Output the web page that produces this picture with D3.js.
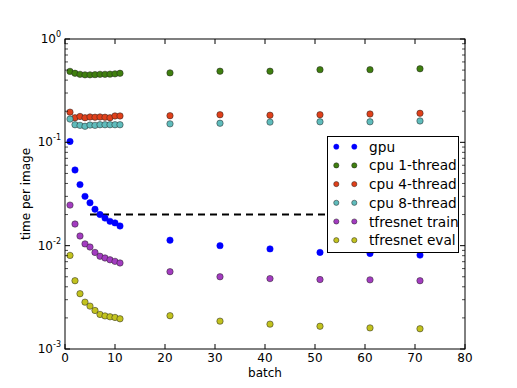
<!DOCTYPE html>
<html>
<head>
<meta charset="utf-8">
<script src="https://cdn.jsdelivr.net/npm/d3@7"></script>
<style>
body { margin: 0; background: #fff; }
svg { font-family: "DejaVu Sans", sans-serif; }
</style>
</head>
<body>
<svg width="517" height="388"></svg>
<script>
const batches = [1, 2, 3, 4, 5, 6, 7, 8, 9, 10, 11, 21, 31, 41, 51, 61, 71];

const gpu = [0.102, 0.054, 0.039, 0.030, 0.026, 0.0225, 0.020, 0.0185, 0.0172, 0.0166, 0.0155,
    0.0113, 0.0100, 0.0093, 0.0086, 0.0084, 0.0081];
const cpu1 = [0.486, 0.466, 0.455, 0.450, 0.450, 0.452, 0.455, 0.455, 0.457, 0.460, 0.466,
    0.470, 0.488, 0.488, 0.505, 0.505, 0.515];
const cpu4 = [0.196, 0.173, 0.178, 0.173, 0.176, 0.175, 0.176, 0.175, 0.173, 0.180, 0.180,
    0.181, 0.185, 0.183, 0.185, 0.188, 0.191];
const cpu8 = [0.168, 0.148, 0.146, 0.143, 0.147, 0.146, 0.148, 0.148, 0.148, 0.148, 0.148,
    0.151, 0.153, 0.157, 0.158, 0.158, 0.161];
const train = [0.0247, 0.0162, 0.0124, 0.0104, 0.0097, 0.0086, 0.0079, 0.0076, 0.0073, 0.00705, 0.0068,
    0.0056, 0.0050, 0.0048, 0.0047, 0.00467, 0.00458];
const evalT = [0.00805, 0.00458, 0.00343, 0.00284, 0.0026, 0.00236, 0.00216, 0.00209, 0.00205, 0.00202, 0.00196,
    0.0021, 0.00186, 0.00174, 0.00166, 0.0016, 0.00157];

const dashX = [5, 75];
const dashY = 0.020;

const seriesNames = ["gpu", "cpu 1-thread", "cpu 4-thread", "cpu 8-thread", "tfresnet train", "tfresnet eval"];
const seriesValues = [gpu, cpu1, cpu4, cpu8, train, evalT];
const seriesColors = ["#0000ff", "#3f7f0f", "#e0401a", "#5fbcbc", "#a33cc0", "#c2c21e"];

const xTicks = [0, 10, 20, 30, 40, 50, 60, 70, 80];
const yTicks = [1e-3, 1e-2, 1e-1, 1];
const yExp = {0.001: "-3", 0.01: "-2", 0.1: "-1", 1: "0"};

const attr = { left: 65, right: 465, top: 39, bottom: 349 };

const svg = d3.select("svg");

const scX = d3.scaleLinear().domain([0, 80]).range([attr.left, attr.right]);
const scY = d3.scaleLog().domain([1e-3, 1]).range([attr.bottom, attr.top]);

// dashed line
svg.append("line")
    .attr("x1", scX(dashX[0])).attr("x2", scX(dashX[1]))
    .attr("y1", scY(dashY)).attr("y2", scY(dashY))
    .attr("stroke", "#000").attr("stroke-width", 2)
    .attr("stroke-dasharray", "7,5");

// points
seriesValues.forEach((vals, i) => {
    svg.append("g").selectAll("circle")
        .data(batches.map((b, j) => ({ x: b, y: vals[j] })))
        .enter()
        .append("circle")
        .attr("cx", d => scX(d.x))
        .attr("cy", d => scY(d.y))
        .attr("r", 3.2)
        .attr("fill", seriesColors[i])
        .attr("stroke", i === 0 ? seriesColors[i] : "#222")
        .attr("stroke-width", 0.5);
});

// frame
svg.append("rect")
    .attr("x", attr.left).attr("y", attr.top)
    .attr("width", attr.right - attr.left).attr("height", attr.bottom - attr.top)
    .attr("fill", "none").attr("stroke", "#000").attr("stroke-width", 1);

// x ticks (inside, bottom and top)
const xt = svg.append("g");
xTicks.forEach(t => {
    xt.append("line").attr("x1", scX(t)).attr("x2", scX(t))
        .attr("y1", attr.bottom).attr("y2", attr.bottom - 5).attr("stroke", "#000");
    xt.append("line").attr("x1", scX(t)).attr("x2", scX(t))
        .attr("y1", attr.top).attr("y2", attr.top + 5).attr("stroke", "#000");
    xt.append("text").attr("x", scX(t)).attr("y", attr.bottom + 13)
        .attr("text-anchor", "middle").attr("font-size", 12).text(t);
});

// y ticks, major and minor
const yt = svg.append("g");
yTicks.forEach(t => {
    const y = scY(t);
    yt.append("line").attr("x1", attr.left).attr("x2", attr.left + 5)
        .attr("y1", y).attr("y2", y).attr("stroke", "#000");
    yt.append("line").attr("x1", attr.right).attr("x2", attr.right - 5)
        .attr("y1", y).attr("y2", y).attr("stroke", "#000");
    const txt = yt.append("text").attr("x", attr.left - 4).attr("y", y + 4)
        .attr("text-anchor", "end").attr("font-size", 12);
    txt.append("tspan").text("10");
    txt.append("tspan").attr("font-size", 8).attr("dy", -6).text(yExp[t]);
    if (t < 1) {
        for (let k = 2; k <= 9; k++) {
            const ym = scY(t * k);
            yt.append("line").attr("x1", attr.left).attr("x2", attr.left + 3)
                .attr("y1", ym).attr("y2", ym).attr("stroke", "#000").attr("stroke-width", 0.7);
            yt.append("line").attr("x1", attr.right).attr("x2", attr.right - 3)
                .attr("y1", ym).attr("y2", ym).attr("stroke", "#000").attr("stroke-width", 0.7);
        }
    }
});

// axis labels
svg.append("text").attr("x", (attr.left + attr.right) / 2).attr("y", 377)
    .attr("text-anchor", "middle").attr("font-size", 12).text("batch");
svg.append("text")
    .attr("transform", `translate(30,${(attr.top + attr.bottom) / 2}) rotate(-90)`)
    .attr("text-anchor", "middle").attr("font-size", 12).text("time per image");

// legend
const leg = svg.append("g");
leg.append("rect").attr("x", 327.5).attr("y", 136.5).attr("width", 131).attr("height", 116)
    .attr("fill", "#fff").attr("stroke", "#000").attr("stroke-width", 1);
seriesNames.forEach((name, i) => {
    const y = 146.7 + i * 18.7;
    [336.3, 354.3].forEach(x => {
        leg.append("circle").attr("cx", x).attr("cy", y).attr("r", 2.6)
            .attr("fill", seriesColors[i])
            .attr("stroke", i === 0 ? seriesColors[i] : "#222").attr("stroke-width", 0.5);
    });
    leg.append("text").attr("x", 369).attr("y", y + 5)
        .attr("font-size", 13.7).text(name);
});
</script>
</body>
</html>
